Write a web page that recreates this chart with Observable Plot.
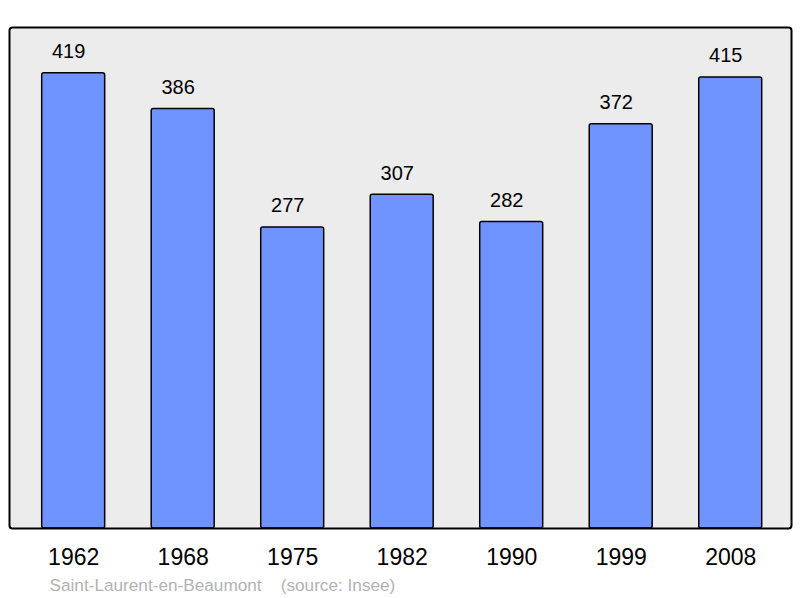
<!DOCTYPE html>
<html>
<head>
<meta charset="utf-8">
<script src="https://cdn.jsdelivr.net/npm/d3@7"></script>
<script src="https://cdn.jsdelivr.net/npm/@observablehq/plot@0.6"></script>
<style>
  html, body { margin: 0; padding: 0; background: #fff; }
  svg { display: block; }
</style>
</head>
<body>
<div id="chart"></div>
<script>
const years = ["1962", "1968", "1975", "1982", "1990", "1999", "2008"];
const population = [419, 386, 277, 307, 282, 372, 415];
const captionText = "Saint-Laurent-en-Beaumont    (source: Insee)";

const data = years.map((y, i) => ({year: y, pop: population[i]}));

const chart = Plot.plot({
  width: 800,
  height: 598,
  marginLeft: 9,
  marginRight: 9,
  marginTop: 27,
  marginBottom: 70,
  style: {fontFamily: "'Liberation Sans', Arial, sans-serif", background: "#fff"},
  x: {domain: years, range: [41.7, 761.7], paddingInner: 0.425, paddingOuter: 0, round: false},
  y: {domain: [0, 461], axis: null},
  marks: [
    Plot.frame({fill: "#ececec", stroke: "none"}),
    Plot.barY(data, {x: "year", y: "pop", fill: "#7094ff", stroke: "#000", strokeWidth: 1.5, rx: 2}),
    Plot.text(data, {x: "year", y: "pop", text: d => String(d.pop), lineAnchor: "bottom", dx: -5, dy: -15, fontSize: 20, fill: "#000"}),
    Plot.axisX({tickSize: 0, tickPadding: 20, fontSize: 23, color: "#000", label: null}),
    Plot.frame({stroke: "#000", strokeWidth: 2, rx: 3, fill: "none"}),
    Plot.text([captionText], {frameAnchor: "bottom-left", text: d => d, dx: 40, dy: 62, lineAnchor: "bottom", textAnchor: "start", fontSize: 17.2, fill: "#b3b3b3", style: {whiteSpace: "pre"}})
  ]
});
document.getElementById("chart").appendChild(chart);
</script>
</body>
</html>
